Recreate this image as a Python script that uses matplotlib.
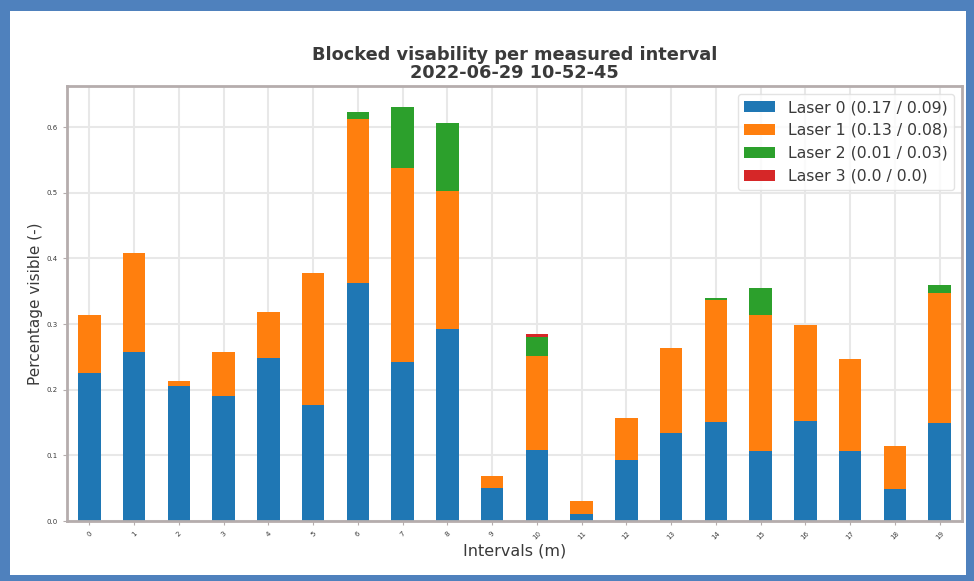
import pandas as pd
import matplotlib.pyplot as plt
from matplotlib.patches import Rectangle

intervals = [str(i) for i in range(20)]

laser0 = [0.225, 0.257, 0.205, 0.190, 0.248, 0.176, 0.362, 0.242, 0.292, 0.050,
          0.108, 0.011, 0.093, 0.134, 0.151, 0.106, 0.153, 0.106, 0.049, 0.150]
laser1 = [0.088, 0.151, 0.008, 0.067, 0.071, 0.201, 0.250, 0.295, 0.211, 0.018,
          0.144, 0.019, 0.064, 0.129, 0.186, 0.208, 0.145, 0.140, 0.065, 0.197]
laser2 = [0.0, 0.0, 0.0, 0.0, 0.0, 0.0, 0.011, 0.094, 0.103, 0.0,
          0.029, 0.0, 0.0, 0.0, 0.002, 0.041, 0.0, 0.0, 0.0, 0.013]
laser3 = [0.0, 0.0, 0.0, 0.0, 0.0, 0.0, 0.0, 0.0, 0.0, 0.0,
          0.004, 0.0, 0.0, 0.0, 0.0, 0.0, 0.0, 0.0, 0.0, 0.0]

labels = [
    'Laser 0 (0.17 / 0.09)',
    'Laser 1 (0.13 / 0.08)',
    'Laser 2 (0.01 / 0.03)',
    'Laser 3 (0.0 / 0.0)',
]

df = pd.DataFrame({labels[0]: laser0, labels[1]: laser1,
                   labels[2]: laser2, labels[3]: laser3}, index=intervals)

text_color = '#3a3a3a'
spine_color = '#b5adad'
grid_color = '#e8e8e8'

fig = plt.figure(figsize=(9.74, 5.81), dpi=100)
fig.patch.set_facecolor('#4f81bd')
# white chart area inside the blue frame
fig.patches.append(Rectangle((10 / 974, 6 / 581), 956 / 974, 564 / 581,
                             transform=fig.transFigure, facecolor='white',
                             edgecolor='none', zorder=-10))

ax = fig.add_axes([67 / 974, 60 / 581, 895 / 974, 435 / 581])
df.plot(kind='bar', stacked=True, ax=ax, rot=45,
        color=['#1f77b4', '#ff7f0e', '#2ca02c', '#d62728'], width=0.5)

ax.set_axisbelow(True)
ax.grid(True, color=grid_color, linewidth=1.5)
for s in ax.spines.values():
    s.set_color(spine_color)
    s.set_linewidth(2)

ax.set_yticks([0.0, 0.1, 0.2, 0.3, 0.4, 0.5, 0.6])
ax.set_yticklabels([f'{v:.1f}' for v in ax.get_yticks()])
ax.tick_params(axis='both', labelsize=5, colors=text_color, length=3, color=spine_color)

ax.set_title('Blocked visability per measured interval\n2022-06-29 10-52-45',
             fontsize=12.8, fontweight='bold', color=text_color, pad=6, linespacing=1.0)
ax.set_xlabel('Intervals (m)', fontsize=11.5, color=text_color, labelpad=2)
ax.set_ylabel('Percentage visible (-)', fontsize=11, color=text_color, labelpad=3)

leg = ax.legend(loc='upper right', fontsize=11.3, frameon=True, labelcolor=text_color)
leg.get_frame().set_edgecolor('#dddddd')

fig.savefig('out.png', dpi=100, facecolor=fig.get_facecolor())
